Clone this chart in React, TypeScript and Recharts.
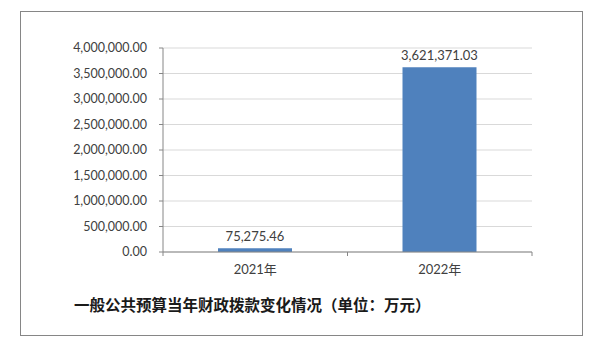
import { BarChart, Bar, XAxis, YAxis, CartesianGrid, LabelList } from "recharts";

const years = ["2021年", "2022年"];
const amounts = [75275.46, 3621371.03];
const yTicks = [0, 500000, 1000000, 1500000, 2000000, 2500000, 3000000, 3500000, 4000000];
const title = "一般公共预算当年财政拨款变化情况（单位：万元）";

const data = years.map((year, i) => ({ year, amount: amounts[i] }));

const fmt = (v: number) =>
  v.toLocaleString("en-US", { minimumFractionDigits: 2, maximumFractionDigits: 2 });

const font = "Lato, 'Noto Sans CJK SC', sans-serif";
const axisGrey = "#868686";

function YearTick(props: any) {
  const { x, y, payload, index, visibleTicksCount } = props;
  const half = payload.offset || 92;
  return (
    <g>
      <line x1={x - half} y1={y - 8} x2={x - half} y2={y - 4} stroke={axisGrey} />
      {index === visibleTicksCount - 1 && (
        <line x1={x + half} y1={y - 8} x2={x + half} y2={y - 4} stroke={axisGrey} />
      )}
      <text x={x} y={y + 14} textAnchor="middle" fill="#404040" fontSize={13} fontFamily={font}>
        {payload.value}
      </text>
    </g>
  );
}

export default function App() {
  return (
    <div style={{ position: "fixed", left: 0, top: 0, width: 600, height: 349, background: "#fff" }}>
      <div
        style={{
          position: "absolute",
          left: 20,
          top: 11,
          width: 563,
          height: 325,
          border: `1px solid ${axisGrey}`,
          boxSizing: "border-box",
        }}
      />
      <div style={{ position: "absolute", left: 0, top: 0 }}>
        <BarChart width={600} height={349} data={data} margin={{ top: 48, right: 68, bottom: 67, left: 0 }}>
          <CartesianGrid vertical={false} stroke="#d9d9d9" />
          <XAxis
            dataKey="year"
            height={30}
            axisLine={{ stroke: axisGrey }}
            tickLine={false}
            tick={<YearTick />}
            interval={0}
          />
          <YAxis
            width={163}
            domain={[0, 4000000]}
            ticks={yTicks}
            tickFormatter={fmt}
            axisLine={{ stroke: axisGrey }}
            tickLine={{ stroke: axisGrey }}
            tickSize={4}
            tickMargin={12}
            tick={{ fill: "#404040", fontSize: 12.5, fontFamily: font }}
            interval={0}
          />
          <Bar dataKey="amount" fill="#4f81bd" barSize={74} isAnimationActive={false}>
            <LabelList
              dataKey="amount"
              position="top"
              formatter={(v: any) => fmt(Number(v))}
              fill="#404040"
              fontSize={13}
              fontFamily={font}
              offset={7}
            />
          </Bar>
        </BarChart>
      </div>
      <div
        style={{
          position: "absolute",
          left: 74,
          top: 293,
          fontSize: 15.5,
          fontWeight: "bold",
          fontFamily: "'Noto Sans CJK SC', sans-serif",
          color: "#1a1a1a",
          whiteSpace: "nowrap",
        }}
      >
        {title}
      </div>
    </div>
  );
}
